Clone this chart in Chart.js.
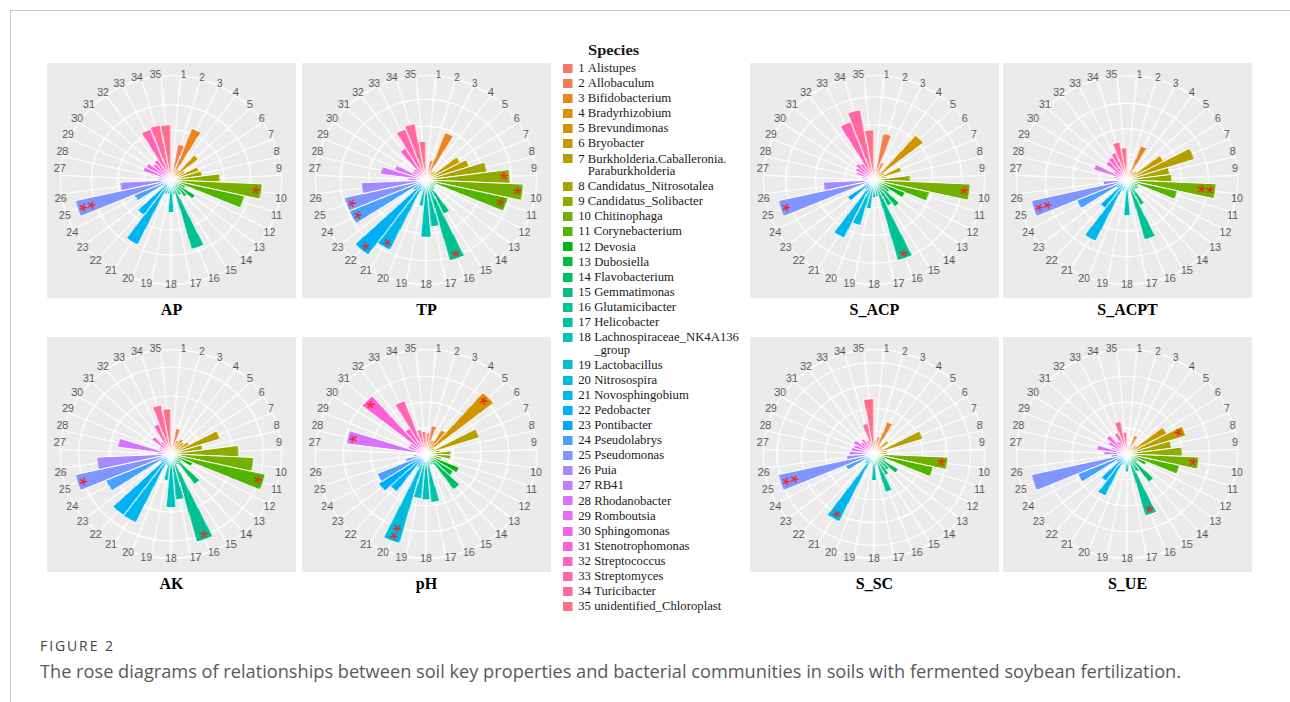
<!DOCTYPE html>
<html><head><meta charset="utf-8">
<script src="https://cdn.jsdelivr.net/npm/chart.js@4.4.1/dist/chart.umd.min.js"></script>
<style>
html,body{margin:0;padding:0;background:#fff;width:1290px;height:702px;overflow:hidden;}
#frame{position:absolute;left:10px;top:10px;width:1290px;height:700px;border-left:1px solid #c9c9c9;border-top:1px solid #c9c9c9;}
.panel{position:absolute;width:235px;height:235px;background:#EBEBEB;transform:scaleX(1.0596);transform-origin:0 0;}
.panel canvas{display:block;}
.ptitle{position:absolute;width:249px;text-align:center;font:bold 16px "Liberation Serif";color:#000;line-height:18px;}
#legend{position:absolute;left:563.3px;top:40px;transform:scaleX(1.06);transform-origin:0 0;font-family:"Liberation Serif";color:#1a1a1a;}
#legend .lt{position:absolute;left:23.6px;top:1px;font-weight:bold;font-size:15.5px;line-height:18px;white-space:nowrap;}
#items{position:absolute;left:0;top:22px;width:200px;}
.it{display:flex;align-items:flex-start;font-size:12px;line-height:12.5px;margin-bottom:2.6px;white-space:nowrap;}
.sw{flex:none;width:9.4px;height:9px;margin-top:1.8px;margin-right:5px;}
.num{flex:none;margin-right:3px;}
.nm{white-space:pre;}
#figno{position:absolute;left:40px;top:636px;font:14px "Open Sans";letter-spacing:1.9px;color:#444;}
#cap{position:absolute;left:40px;top:659px;font:18.2px "Open Sans";color:#595959;white-space:nowrap;}
</style></head>
<body>
<div id="frame"></div>
<div id="legend"><div class="lt">Species</div><div id="items"></div></div>
<div id="figno">FIGURE 2</div>
<div id="cap">The rose diagrams of relationships between soil key properties and bacterial communities in soils with fermented soybean fertilization.</div>
<script>
// ---- data ----
const categories = ['1','2','3','4','5','6','7','8','9','10','11','12','13','14','15','16','17','18','19','20','21','22','23','24','25','26','27','28','29','30','31','32','33','34','35'];
const species = ['Alistupes','Allobaculum','Bifidobacterium','Bradyrhizobium','Brevundimonas','Bryobacter','Burkholderia.Caballeronia.\nParaburkholderia','Candidatus_Nitrosotalea','Candidatus_Solibacter','Chitinophaga','Corynebacterium','Devosia','Dubosiella','Flavobacterium','Gemmatimonas','Glutamicibacter','Helicobacter','Lachnospiraceae_NK4A136\n_group','Lactobacillus','Nitrosospira','Novosphingobium','Pedobacter','Pontibacter','Pseudolabrys','Pseudomonas','Puia','RB41','Rhodanobacter','Romboutsia','Sphingomonas','Stenotrophomonas','Streptococcus','Streptomyces','Turicibacter','unidentified_Chloroplast'];

const AP     = [0.40,1.45,2.21,0.48,1.33,0.60,1.12,1.19,1.85,3.44,2.85,0.60,1.10,0.83,0.67,2.88,0.60,1.30,0.56,0.60,2.88,1.74,0.40,1.51,3.71,1.93,0.48,0.48,1.11,1.07,0.87,0.95,2.18,2.24,2.21];
const TP     = [0.30,0.76,1.89,0.37,0.44,1.37,1.60,2.16,2.94,3.43,2.95,0.37,0.37,0.44,1.41,3.12,1.75,2.13,0.98,0.44,2.90,3.45,0.55,2.93,2.94,2.27,0.63,1.61,1.16,0.55,0.55,1.39,2.03,2.13,1.44];
const S_ACP  = [0.43,1.71,0.68,0.36,2.15,0.43,1.00,0.43,1.24,3.29,1.94,1.15,0.64,1.20,1.05,3.02,0.61,0.64,1.05,1.71,2.33,0.43,1.09,0.36,3.35,1.73,0.36,0.43,0.64,0.71,0.79,0.71,2.25,2.58,1.81];
const S_ACPT = [0.31,0.39,1.43,0.39,0.47,1.54,2.62,1.60,1.67,3.30,1.91,0.47,0.51,0.47,1.10,2.43,0.47,1.40,0.39,0.47,2.66,1.37,0.47,2.02,3.63,0.89,0.39,0.47,1.30,0.58,0.99,1.04,1.15,1.51,1.26];
const AK     = [0.34,0.90,0.51,0.61,0.55,0.68,1.68,1.04,2.21,2.69,3.15,0.77,0.41,1.30,0.41,3.15,1.59,1.85,0.92,0.41,2.63,2.62,0.41,2.31,3.20,2.42,0.44,1.76,0.41,0.41,0.79,0.51,1.11,1.72,1.56];
const pH     = [0.81,1.11,0.58,1.09,3.15,0.38,2.05,0.54,0.92,0.91,0.58,1.32,1.20,1.70,0.46,0.46,1.88,1.77,1.73,3.58,0.58,1.80,2.07,1.93,0.77,0.46,0.31,2.93,0.69,0.69,2.98,1.15,2.20,0.96,0.88];
const S_SC   = [0.61,0.78,1.51,0.43,0.77,0.43,2.12,0.52,0.52,3.05,2.51,0.52,1.21,0.87,1.04,1.74,0.52,1.16,0.43,0.43,3.29,0.52,0.43,1.27,4.06,1.13,1.04,0.96,0.87,0.96,0.70,0.78,0.65,1.36,2.42];
const S_UE   = [0.31,0.38,0.77,0.31,0.46,1.65,2.26,1.65,2.01,2.63,1.97,0.77,0.46,1.35,0.77,2.48,0.46,0.69,0.38,0.46,1.80,1.30,0.46,1.95,3.58,0.58,0.85,1.11,0.58,0.77,0.95,0.58,0.88,1.28,0.85];

// significance marks: [category number, mark]
const AP_sig     = [[10,'*'],[25,'**']];
const TP_sig     = [[9,'*'],[10,'*'],[11,'*'],[16,'*'],[21,'*'],[22,'*'],[24,'*'],[25,'*']];
const S_ACP_sig  = [[10,'*'],[16,'*'],[25,'*']];
const S_ACPT_sig = [[10,'**'],[25,'**']];
const AK_sig     = [[11,'*'],[16,'*'],[25,'*']];
const pH_sig     = [[5,'*'],[20,'**'],[28,'*'],[31,'*']];
const S_SC_sig   = [[10,'*'],[21,'*'],[25,'**']];
const S_UE_sig   = [[7,'*'],[10,'*'],[16,'*']];

// ---- styles / layout ----
function hcl(h, c, l) {
  const hr = h * Math.PI / 180;
  const U = c * Math.cos(hr), V = c * Math.sin(hr);
  const Y = l > 8 ? 100 * Math.pow((l + 16) / 116, 3) : 100 * l / 903.3;
  const u = U / (13 * l) + 0.1978398, v = V / (13 * l) + 0.4683363;
  const X = 9 * Y * u / (4 * v), Z = -X / 3 - 5 * Y + 3 * Y / v;
  const x = X / 100, y = Y / 100, z = Z / 100;
  const lin = [3.240479*x - 1.537150*y - 0.498535*z, -0.969256*x + 1.875992*y + 0.041556*z, 0.055648*x - 0.204043*y + 1.057311*z];
  return '#' + lin.map(t => {
    let g = t <= 0.0031308 ? 12.92 * t : 1.055 * Math.pow(t, 1 / 2.4) - 0.055;
    g = Math.max(0, Math.min(1, g));
    return Math.round(g * 255).toString(16).padStart(2, '0');
  }).join('');
}
const colors = categories.map((_, i) => hcl(15 + i * 360 / 35, 100, 65));

const layout = [
  {name:'AP', values:AP, sig:AP_sig, left:47, top:63},
  {name:'TP', values:TP, sig:TP_sig, left:302, top:63},
  {name:'S_ACP', values:S_ACP, sig:S_ACP_sig, left:750, top:63},
  {name:'S_ACPT', values:S_ACPT, sig:S_ACPT_sig, left:1003, top:63},
  {name:'AK', values:AK, sig:AK_sig, left:47, top:337},
  {name:'pH', values:pH, sig:pH_sig, left:302, top:337},
  {name:'S_SC', values:S_SC, sig:S_SC_sig, left:750, top:337},
  {name:'S_UE', values:S_UE, sig:S_UE_sig, left:1003, top:337}
];

// legend
const items = document.getElementById('items');
species.forEach((s, i) => {
  const d = document.createElement('div'); d.className = 'it';
  d.innerHTML = '<span class="sw" style="background:' + colors[i] + '"></span><span class="num">' + categories[i] + '</span><span class="nm"></span>';
  d.querySelector('.nm').textContent = s;
  items.appendChild(d);
});

// outer circle + radial lines (drawn under the point labels and bars)
const polarFrame = {
  id: 'polarFrame',
  beforeDraw(chart) {
    const s = chart.scales.r, ctx = chart.ctx, n = chart.data.labels.length;
    ctx.save(); ctx.strokeStyle = '#ffffff'; ctx.lineWidth = 1.2;
    for (let i = 0; i < n; i++) {
      const p = s.getPointPosition(i, s.drawingArea, Math.PI / n);
      ctx.beginPath(); ctx.moveTo(s.xCenter, s.yCenter); ctx.lineTo(p.x, p.y); ctx.stroke();
    }
    ctx.beginPath(); ctx.arc(s.xCenter, s.yCenter, s.drawingArea, 0, Math.PI * 2); ctx.stroke();
    ctx.restore();
  }
};
const sigMarks = {
  id: 'sigMarks',
  afterDatasetsDraw(chart, args, opts) {
    const meta = chart.getDatasetMeta(0), ctx = chart.ctx;
    ctx.save(); ctx.fillStyle = '#FF1A1A'; ctx.font = '21px "Liberation Sans"';
    ctx.textAlign = 'left'; ctx.textBaseline = 'alphabetic';
    (opts.marks || []).forEach(([idx, mark]) => {
      const arc = meta.data[idx - 1];
      const p = arc.getProps(['x','y','startAngle','endAngle','outerRadius'], true);
      const a = (p.startAngle + p.endAngle) / 2;
      const m = ctx.measureText(mark);
      ctx.save(); ctx.translate(p.x, p.y); ctx.rotate(a);
      const x0 = p.outerRadius - 1.5 - m.actualBoundingBoxRight;
      const y0 = (m.actualBoundingBoxAscent - m.actualBoundingBoxDescent) / 2;
      ctx.fillText(mark, x0, y0);
      ctx.restore();
    });
    ctx.restore();
  }
};

layout.forEach(L => {
  const div = document.createElement('div'); div.className = 'panel';
  div.style.left = L.left + 'px'; div.style.top = L.top + 'px';
  const cv = document.createElement('canvas'); cv.width = 235; cv.height = 235;
  div.appendChild(cv); document.body.appendChild(div);
  const t = document.createElement('div'); t.className = 'ptitle'; t.textContent = L.name;
  t.style.left = L.left + 'px'; t.style.top = (L.top + 238) + 'px';
  document.body.appendChild(t);
  const dataMax = Math.max(...L.values);
  new Chart(cv, {
    type: 'polarArea',
    data: { labels: categories, datasets: [{ data: L.values, backgroundColor: colors, borderColor: '#ffffff', borderWidth: 1 }] },
    options: {
      responsive: false, animation: false, devicePixelRatio: 1,
      layout: { padding: 6 },
      plugins: { legend: { display: false }, tooltip: { enabled: false }, sigMarks: { marks: L.sig } },
      scales: { r: {
        min: 0, max: dataMax * 1.125,
        afterBuildTicks: (s) => { const tk = []; for (let v = 0; v <= dataMax; v++) tk.push({ value: v }); s.ticks = tk; },
        ticks: { display: false },
        grid: { color: '#ffffff', lineWidth: 1.2, circular: true },
        angleLines: { display: false },
        pointLabels: { display: true, centerPointLabels: true, padding: -5, color: '#4D4D4D', font: { family: 'Liberation Sans', size: 10 } }
      } }
    },
    plugins: [polarFrame, sigMarks]
  });
});
</script>
</body></html>
